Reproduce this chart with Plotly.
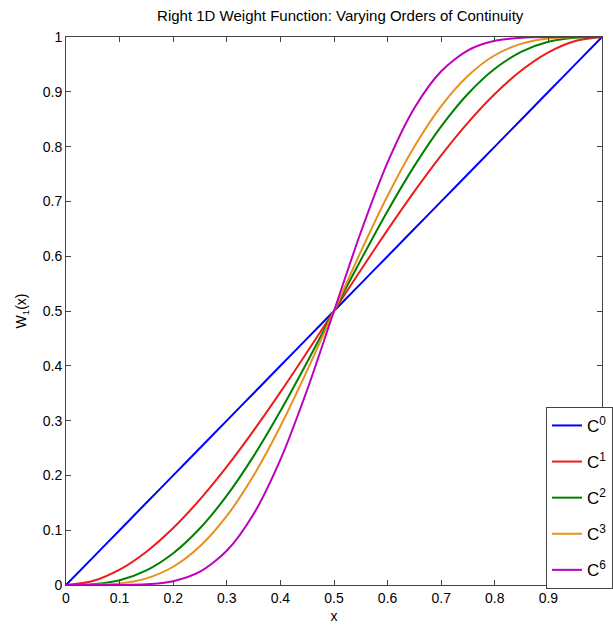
import plotly.graph_objects as go

x = [0, 0.05, 0.1, 0.15, 0.2, 0.25, 0.3, 0.35, 0.4, 0.45, 0.5,
     0.55, 0.6, 0.65, 0.7, 0.75, 0.8, 0.85, 0.9, 0.95, 1.0]

c0 = [0, 0.05, 0.1, 0.15, 0.2, 0.25, 0.3, 0.35, 0.4, 0.45, 0.5,
      0.55, 0.6, 0.65, 0.7, 0.75, 0.8, 0.85, 0.9, 0.95, 1.0]
c1 = [0, 0.0073, 0.028, 0.0608, 0.104, 0.1563, 0.216, 0.2818, 0.352, 0.4253, 0.5,
      0.5748, 0.648, 0.7183, 0.784, 0.8438, 0.896, 0.9393, 0.972, 0.9928, 1.0]
c2 = [0, 0.0012, 0.0086, 0.0266, 0.0579, 0.1035, 0.1631, 0.2352, 0.3174, 0.4069, 0.5,
      0.5931, 0.6826, 0.7648, 0.8369, 0.8965, 0.9421, 0.9734, 0.9914, 0.9988, 1.0]
c3 = [0, 0.0002, 0.0027, 0.0121, 0.0333, 0.0706, 0.126, 0.1998, 0.2898, 0.3917, 0.5,
      0.6083, 0.7102, 0.8002, 0.874, 0.9294, 0.9667, 0.9879, 0.9973, 0.9998, 1.0]
c6 = [0, 0.0, 0.0001, 0.0013, 0.007, 0.0243, 0.0624, 0.1295, 0.2288, 0.3563, 0.5,
      0.6437, 0.7712, 0.8705, 0.9376, 0.9757, 0.993, 0.9987, 0.9999, 1.0, 1.0]

names = ["C<sup>0</sup>", "C<sup>1</sup>", "C<sup>2</sup>", "C<sup>3</sup>", "C<sup>6</sup>"]
series = [c0, c1, c2, c3, c6]
colors = ["#0000ff", "#ee1c1c", "#008000", "#e8901e", "#bf00bf"]

xticks = [0, 0.1, 0.2, 0.3, 0.4, 0.5, 0.6, 0.7, 0.8, 0.9]
xticktext = ["0", "0.1", "0.2", "0.3", "0.4", "0.5", "0.6", "0.7", "0.8", "0.9"]
yticks = [0, 0.1, 0.2, 0.3, 0.4, 0.5, 0.6, 0.7, 0.8, 0.9, 1.0]
yticktext = ["0", "0.1", "0.2", "0.3", "0.4", "0.5", "0.6", "0.7", "0.8", "0.9", "1"]

fig = go.Figure()
for i, (name, ys, col) in enumerate(zip(names, series, colors)):
    fig.add_trace(go.Scatter(x=x, y=ys, mode="lines", name=name, legendgroup=f"g{i}",
                             line=dict(color=col, width=2, shape="spline", smoothing=0.8)))

font = "Liberation Sans, Arial, sans-serif"
fig.update_layout(
    width=613, height=628,
    margin=dict(l=66, r=0, t=37, b=43),
    paper_bgcolor="white", plot_bgcolor="white",
    font=dict(family=font, size=14, color="black"),
    title=dict(text="Right 1D Weight Function: Varying Orders of Continuity",
               x=0.555, xanchor="center", y=0.975, yanchor="middle",
               font=dict(size=15, family=font, color="black")),
    xaxis=dict(range=[0, 1], tickvals=xticks, ticktext=xticktext,
               ticks="inside", ticklen=5, tickcolor="#444", showgrid=False,
               zeroline=False, showline=True, linecolor="#444", linewidth=1, mirror="ticks",
               title=dict(text="x", standoff=6, font=dict(size=14))),
    yaxis=dict(range=[0, 1], tickvals=yticks, ticktext=yticktext,
               ticks="inside", ticklen=5, tickcolor="#444", showgrid=False,
               zeroline=False, showline=True, linecolor="#444", linewidth=1, mirror="ticks",
               title=dict(text="W<sub>1</sub>(x)", standoff=12, font=dict(size=14))),
    legend=dict(x=0.896, y=0.325, xanchor="left", yanchor="top",
                bgcolor="white", bordercolor="#444", borderwidth=1,
                font=dict(size=17, family=font), itemwidth=30, tracegroupgap=11),
    showlegend=True,
)

fig.write_html("out.html")
